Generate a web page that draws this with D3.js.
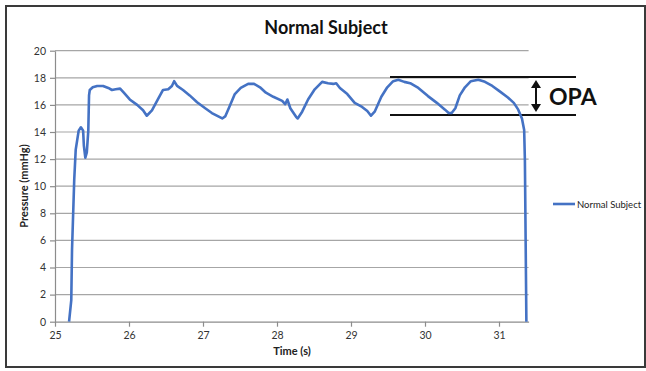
<!DOCTYPE html>
<html>
<head>
<meta charset="utf-8">
<script src="https://cdn.jsdelivr.net/npm/d3@7"></script>
<style>
  body { margin: 0; background: #fff; }
  text { font-family: Lato, "Open Sans", sans-serif; }
</style>
</head>
<body>
<div class="wrapper-svg"></div>
<script>
// pressure trace (time s, mmHg)
var time = [25.19, 25.22, 25.23, 25.26, 25.28, 25.30, 25.32, 25.35, 25.38, 25.39, 25.41, 25.43, 25.45, 25.46, 25.47, 25.51, 25.57, 25.65, 25.72, 25.77, 25.82, 25.88, 25.93, 26.01, 26.11, 26.19, 26.24,
    26.31, 26.39, 26.46, 26.53, 26.58, 26.61, 26.65, 26.73, 26.82, 26.92, 27.03, 27.12, 27.26,
    27.30, 27.36, 27.43, 27.51, 27.61, 27.69, 27.77, 27.85, 27.95, 28.07, 28.11, 28.14, 28.18, 28.26, 28.28,
    28.34, 28.42, 28.51, 28.61, 28.69, 28.76, 28.80, 28.85, 28.95, 29.05, 29.15, 29.22, 29.27,
    29.32, 29.41, 29.49, 29.57, 29.64, 29.72, 29.80, 29.91, 30.04, 30.16, 30.27, 30.32, 30.36,
    30.41, 30.47, 30.54, 30.62, 30.72, 30.81, 30.91, 31.01, 31.12, 31.20, 31.26, 31.31, 31.34, 31.35, 31.36, 31.37];
var pressure = [0, 1.6, 5.3, 10.5, 12.7, 13.4, 14.1, 14.35, 14.1, 13.0, 12.1, 12.5, 14.1, 16.7, 17.1, 17.3, 17.4, 17.4, 17.25, 17.1, 17.15, 17.2, 16.9, 16.4, 16.0, 15.6, 15.2,
    15.6, 16.4, 17.1, 17.15, 17.4, 17.75, 17.4, 17.1, 16.7, 16.2, 15.75, 15.4, 15.0,
    15.15, 15.9, 16.8, 17.25, 17.55, 17.55, 17.3, 16.9, 16.6, 16.3, 16.05, 16.4, 15.75, 15.1, 15.0,
    15.5, 16.4, 17.15, 17.7, 17.6, 17.55, 17.6, 17.25, 16.8, 16.15, 15.85, 15.55, 15.2,
    15.5, 16.6, 17.3, 17.75, 17.85, 17.7, 17.6, 17.25, 16.65, 16.15, 15.65, 15.4, 15.4,
    15.75, 16.7, 17.3, 17.75, 17.85, 17.7, 17.4, 17.0, 16.55, 16.15, 15.65, 15.0, 14.15, 11.9, 6.0, 0];
var xTicks = [25, 26, 27, 28, 29, 30, 31];
var yTicks = [0, 2, 4, 6, 8, 10, 12, 14, 16, 18, 20];
var opaLevels = [18.05, 15.25];   // top and bottom of the OPA band
var seriesName = 'Normal Subject';

var width = 646, height = 371;
var svg = d3.select('.wrapper-svg')
    .append('svg')
    .attr('width', width)
    .attr('height', height);

svg.append('rect')
    .attr('x', 6)
    .attr('y', 6)
    .attr('width', 639)
    .attr('height', 361)
    .attr('fill', '#fff')
    .attr('stroke', '#3a3a3a')
    .attr('stroke-width', 2);

var x = d3.scaleLinear().domain([25, 31.4]).range([55, 528.6]);
var y = d3.scaleLinear().domain([0, 20]).range([321.7, 50.7]);

// gridlines
svg.append('g')
    .selectAll('line')
    .data(yTicks.slice(1))
    .enter()
    .append('line')
    .attr('x1', x(25))
    .attr('x2', x(31.4))
    .attr('y1', function(d) { return y(d); })
    .attr('y2', function(d) { return y(d); })
    .attr('stroke', '#a6a6a6')
    .attr('stroke-width', 1.2);

var yAxis = svg.append('g')
    .attr('transform', 'translate(' + x(25) + ',0)')
    .call(d3.axisLeft(y).tickValues(yTicks).tickSize(5).tickPadding(4).tickSizeOuter(0));

var xAxis = svg.append('g')
    .attr('transform', 'translate(0,' + y(0) + ')')
    .call(d3.axisBottom(x).tickValues(xTicks).tickFormat(d3.format('d')).tickSize(5).tickPadding(5).tickSizeOuter(0));

[xAxis, yAxis].forEach(function(a) {
    a.select('.domain').attr('stroke', '#8c8c8c').attr('stroke-width', 1.2);
    a.selectAll('.tick line').attr('stroke', '#8c8c8c').attr('stroke-width', 1.2);
    a.selectAll('.tick text')
        .attr('fill', '#333')
        .style('font-size', '10.5px')
        .style('font-family', 'Lato, "Open Sans", sans-serif');
});

// OPA band
svg.append('g')
    .selectAll('line')
    .data(opaLevels)
    .enter()
    .append('line')
    .attr('x1', 390)
    .attr('x2', 576)
    .attr('y1', function(d) { return y(d); })
    .attr('y2', function(d) { return y(d); })
    .attr('stroke', '#111')
    .attr('stroke-width', 2);

var line = d3.line()
    .x(function(d) { return x(d[0]); })
    .y(function(d) { return y(d[1]); })
    .curve(d3.curveLinear);

svg.append('path')
    .datum(d3.zip(time, pressure))
    .attr('d', line)
    .attr('fill', 'none')
    .attr('stroke', '#4472c4')
    .attr('stroke-width', 2.6)
    .attr('stroke-linejoin', 'round');

// double arrow
var ax = 536, aTop = y(opaLevels[0]) + 3, aBot = y(opaLevels[1]) - 3;
svg.append('line')
    .attr('x1', ax).attr('x2', ax)
    .attr('y1', aTop + 6).attr('y2', aBot - 6)
    .attr('stroke', '#111')
    .attr('stroke-width', 2);
svg.append('polygon')
    .attr('points', (ax - 5) + ',' + (aTop + 8) + ' ' + (ax + 5) + ',' + (aTop + 8) + ' ' + ax + ',' + aTop)
    .attr('fill', '#111');
svg.append('polygon')
    .attr('points', (ax - 5) + ',' + (aBot - 8) + ' ' + (ax + 5) + ',' + (aBot - 8) + ' ' + ax + ',' + aBot)
    .attr('fill', '#111');

svg.append('text')
    .text('OPA')
    .attr('x', 549)
    .attr('y', 105)
    .style('font-size', '23px')
    .style('font-weight', 'bold')
    .attr('fill', '#111');

svg.append('text')
    .text('Normal Subject')
    .attr('x', 326)
    .attr('y', 34)
    .attr('text-anchor', 'middle')
    .style('font-size', '18px')
    .style('font-weight', 'bold')
    .attr('fill', '#111');

svg.append('text')
    .text('Time (s)')
    .attr('x', 292)
    .attr('y', 355)
    .attr('text-anchor', 'middle')
    .style('font-size', '11px')
    .style('font-weight', 'bold')
    .attr('fill', '#222');

svg.append('text')
    .text('Pressure (mmHg)')
    .attr('transform', 'translate(28,186) rotate(-90)')
    .attr('text-anchor', 'middle')
    .style('font-size', '11px')
    .style('font-weight', 'bold')
    .attr('fill', '#222');

// legend
svg.append('line')
    .attr('x1', 553).attr('x2', 575)
    .attr('y1', 204).attr('y2', 204)
    .attr('stroke', '#4472c4')
    .attr('stroke-width', 2.6);
svg.append('text')
    .text(seriesName)
    .attr('x', 577)
    .attr('y', 207.5)
    .style('font-size', '9.5px')
    .attr('fill', '#222');
</script>
</body>
</html>
